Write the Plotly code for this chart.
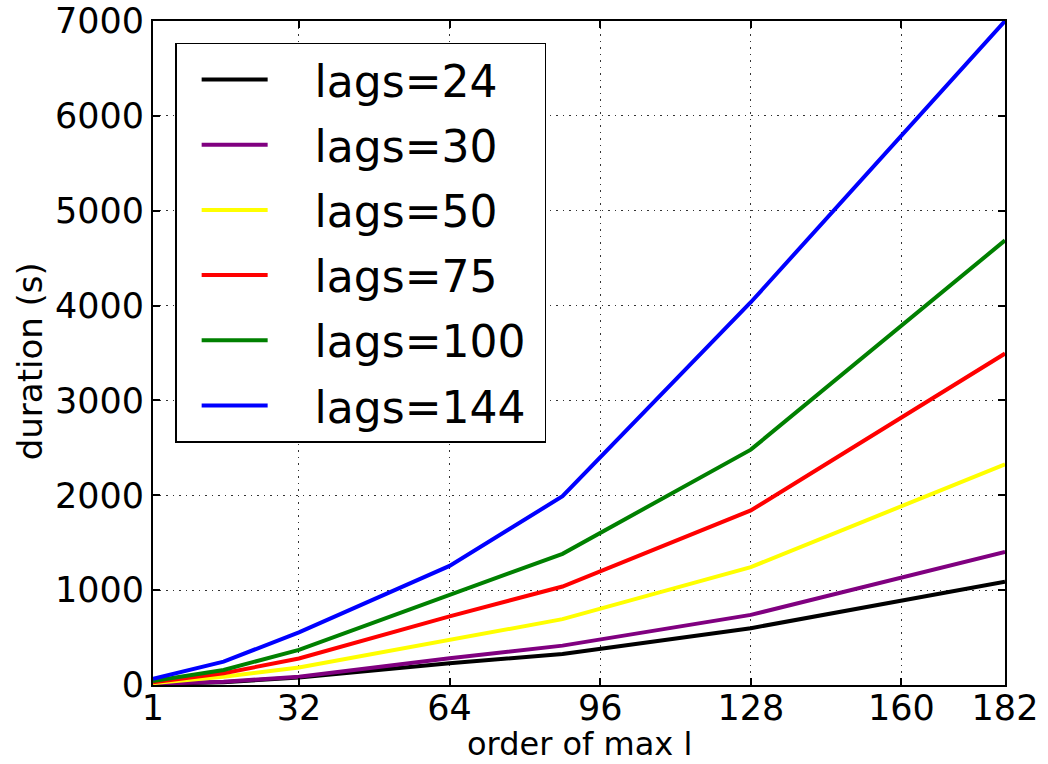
import plotly.graph_objects as go

order = [1, 16, 32, 64, 88, 128, 182]
lags24 = [10, 30, 78, 230, 327, 599, 1089]
lags30 = [12, 35, 88, 283, 415, 739, 1404]
lags50 = [20, 88, 184, 474, 694, 1243, 2326]
lags75 = [28, 124, 279, 724, 1038, 1840, 3494]
lags100 = [42, 159, 371, 947, 1383, 2481, 4687]
lags144 = [64, 247, 555, 1255, 1990, 4035, 7000]

series_names = ["lags=24", "lags=30", "lags=50", "lags=75", "lags=100", "lags=144"]
series_values = [lags24, lags30, lags50, lags75, lags100, lags144]
series_colors = ["#000000", "#800080", "#ffff00", "#ff0000", "#008000", "#0000ff"]

x_ticks = [1, 32, 64, 96, 128, 160, 182]
y_ticks = [0, 1000, 2000, 3000, 4000, 5000, 6000, 7000]

FONT = "DejaVu Sans"
GAP = "\u00a0\u00a0\u00a0"

fig = go.Figure()
for i, (name, vals, col) in enumerate(zip(series_names, series_values, series_colors)):
    fig.add_trace(go.Scatter(x=order, y=vals, mode="lines", name=GAP + name + "\u00a0",
                             legendgroup=f"g{i}",
                             line=dict(color=col, width=4)))

axis_common = dict(
    showline=True, linecolor="black", linewidth=2, mirror="allticks",
    ticks="inside", ticklen=7, tickwidth=1.5, tickcolor="black",
    showgrid=True, gridcolor="rgba(0,0,0,0.8)", griddash="1.5px,5px", gridwidth=1,
    zeroline=False, tickfont=dict(family=FONT, size=35, color="black"),
    automargin=False, ticklabeloverflow="allow",
)

fig.update_xaxes(range=[1, 182], tickmode="array", tickvals=x_ticks,
                 ticktext=[str(t) for t in x_ticks], ticklabelstandoff=-9, **axis_common)
fig.update_yaxes(range=[0, 7000], tickmode="array", tickvals=y_ticks,
                 ticktext=[str(t) for t in y_ticks], **axis_common)

fig.add_annotation(text="order of max l", xref="paper", yref="paper",
                   x=0.5, y=-0.089, xanchor="center", yanchor="middle",
                   showarrow=False, font=dict(family=FONT, size=32, color="black"))
fig.add_annotation(text="duration (s)", xref="paper", yref="paper",
                   x=-0.144, y=0.488, xanchor="center", yanchor="middle", textangle=-90,
                   showarrow=False, font=dict(family=FONT, size=34, color="black"))

fig.update_layout(
    width=1048, height=764,
    margin=dict(l=153, r=43, t=21, b=79, autoexpand=False),
    paper_bgcolor="white", plot_bgcolor="white",
    font=dict(family=FONT, color="black"),
    legend=dict(x=0.026, y=0.967, xanchor="left", yanchor="top",
                bgcolor="white", bordercolor="black", borderwidth=1.5,
                font=dict(family=FONT, size=44, color="black"),
                tracegroupgap=5, itemwidth=66, indentation=20),
    showlegend=True,
)

fig.write_html("out.html", config={"displayModeBar": False},
               post_script="document.body.style.margin='0';document.body.style.overflow='hidden';")
